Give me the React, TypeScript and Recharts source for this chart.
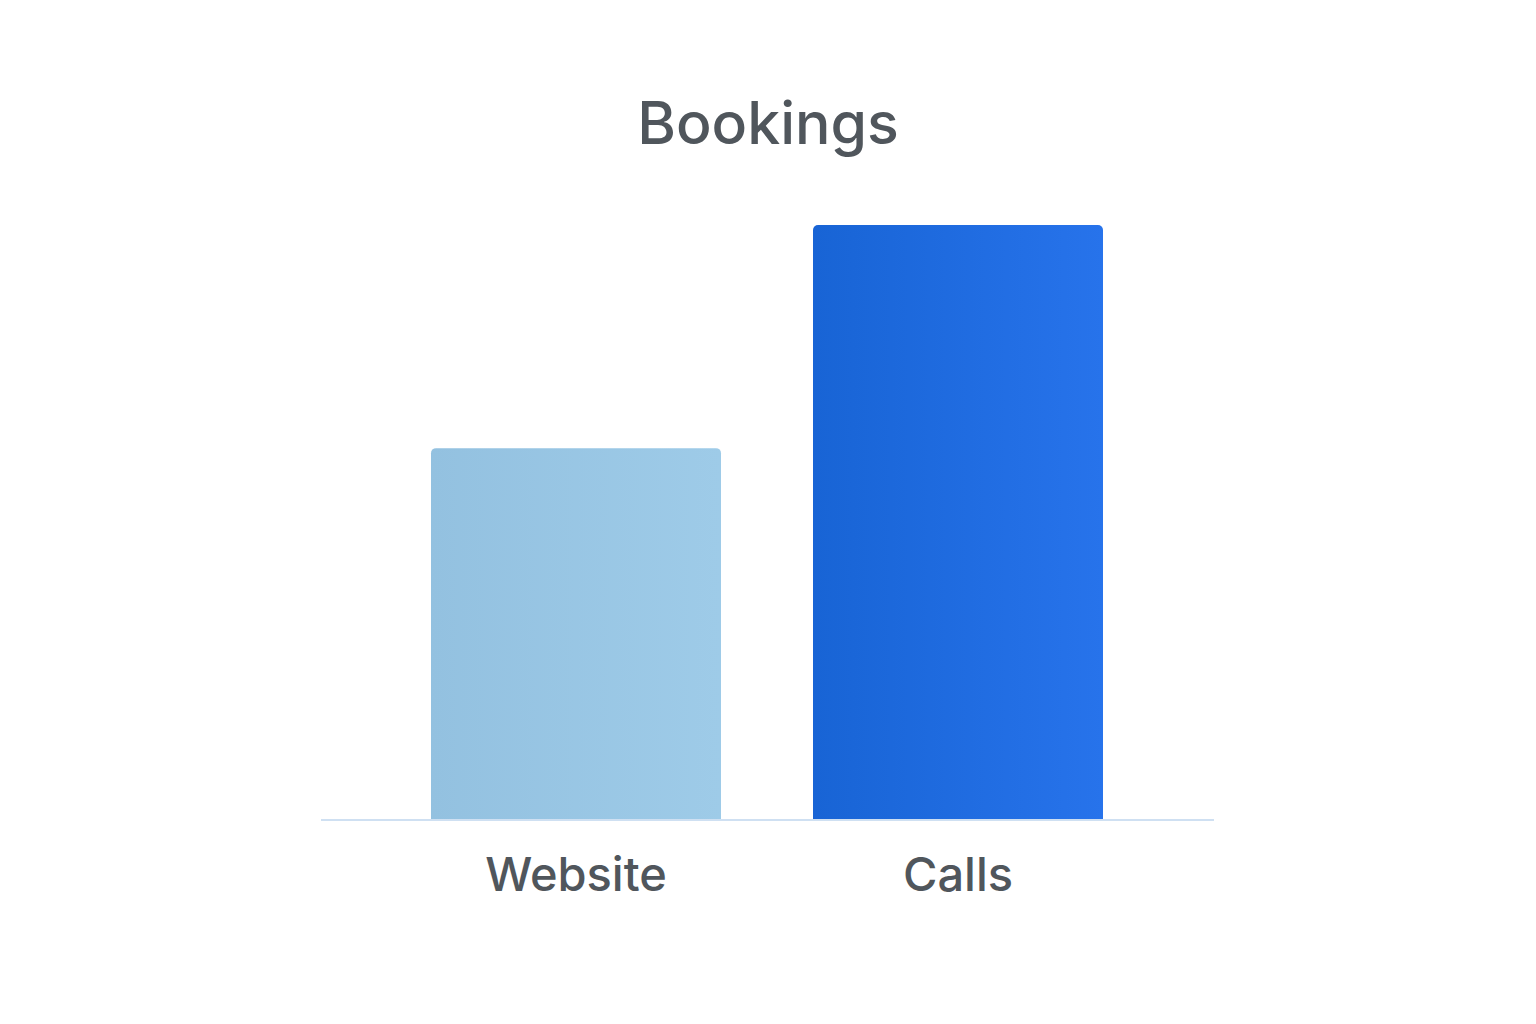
import { Bar, BarChart, Cell, XAxis, YAxis } from "recharts";

const channels = ["Website", "Calls"];
const bookings = [5, 8];
const fills = ["url(#gradWebsite)", "url(#gradCalls)"];

const data = channels.map((name, i) => ({ name, bookings: bookings[i] }));

export default function App() {
    return (
        <div style={{ position: "absolute", left: 0, top: 0, width: 1536, height: 1024, background: "#ffffff", fontFamily: "Inter, 'Noto Sans', sans-serif" }}>
            <div style={{ position: "absolute", left: 0, top: 85, width: 1536, textAlign: "center", fontSize: 59, fontWeight: 500, color: "#50565c", lineHeight: "76px" }}>
                Bookings
            </div>
            <BarChart
                width={1536}
                height={1024}
                data={data}
                margin={{ top: 225, right: 322, bottom: 174, left: 321 }}
            >
                <defs>
                    <linearGradient id="gradWebsite" x1="0" y1="0" x2="1" y2="0">
                        <stop offset="0%" stopColor="#93c1e0" />
                        <stop offset="100%" stopColor="#9ecbe8" />
                    </linearGradient>
                    <linearGradient id="gradCalls" x1="0" y1="0" x2="1" y2="0">
                        <stop offset="0%" stopColor="#1864d5" />
                        <stop offset="100%" stopColor="#2773eb" />
                    </linearGradient>
                </defs>
                <XAxis
                    dataKey="name"
                    padding={{ left: 64, right: 65 }}
                    axisLine={{ stroke: "#cfe0f2", strokeWidth: 2 }}
                    tickLine={false}
                    tickSize={0}
                    tickMargin={38}
                    tick={{ fontSize: 47, fill: "#50565c", fontWeight: 500 }}
                />
                <YAxis hide domain={[0, 8]} />
                <Bar dataKey="bookings" barSize={290} radius={[5, 5, 0, 0]} isAnimationActive={false}>
                    {data.map((d, i) => (
                        <Cell key={d.name} fill={fills[i]} />
                    ))}
                </Bar>
            </BarChart>
        </div>
    );
}
